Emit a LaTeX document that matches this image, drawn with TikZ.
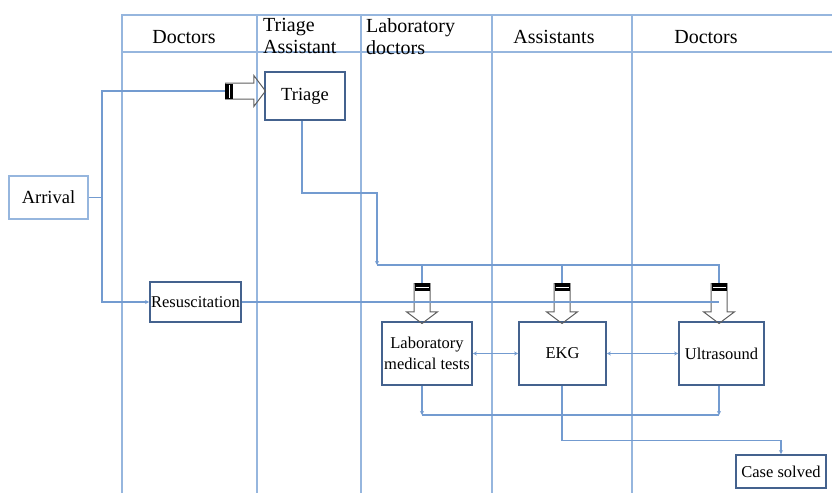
\documentclass[tikz,border=0pt]{standalone}
\usepackage{fontspec}
\setmainfont{Liberation Serif}
\usetikzlibrary{shapes.arrows, arrows.meta, positioning, calc}
\definecolor{laneblue}{RGB}{150,182,222}
\definecolor{lineblue}{RGB}{115,155,208}
\definecolor{boxblue}{RGB}{68,98,142}
\tikzstyle{lane} = [draw=laneblue, line width=1.4pt]
\tikzstyle{head} = [font=\fontsize{20}{22}\selectfont, align=left, inner sep=0pt]
\tikzstyle{std} = [rectangle, draw=boxblue, line width=1.8pt, text centered, align=center, inner sep=0pt, font=\fontsize{16.5}{21}\selectfont]
\tikzstyle{line} = [draw=lineblue, line width=1.2pt]
\tikzstyle{arrow} = [line, -{Stealth[length=4pt, width=4pt]}]
\tikzstyle{darrow} = [line, {Stealth[length=4pt, width=4pt]}-{Stealth[length=4pt, width=4pt]}]
\tikzstyle{bigarrow} = [single arrow, draw=gray!75!black, line width=1pt, minimum height=40pt, inner sep=7.5pt, single arrow head extend=7.5pt, single arrow tip angle=106]

\begin{document}
\begin{tikzpicture}[x=1pt, y=-1pt]
      \useasboundingbox (0,0) rectangle (832,493);

      % swim lanes
      \draw [lane] (122,493) |- (832,15);
      \draw [lane] (122,52) -- (832,52);
      \foreach \x in {257,361,492,632}
        \draw [lane] (\x,15) -- (\x,493);

      \node (hdoca) [head, anchor=base] at (184,43) {Doctors};
      \node (htri) [head, anchor=north west] at (263,18) {Triage\\Assistant};
      \node (hlab) [head, anchor=north west] at (366,18) {Laboratory\\doctors};
      \node (hass) [head, anchor=base] at (554,43) {Assistants};
      \node (hdocb) [head, anchor=base] at (706,43) {Doctors};

      % boxes
      \node (arrival) [std, draw=laneblue, line width=1.2pt, minimum width=79pt, minimum height=43pt, font=\fontsize{18.5}{20}\selectfont] at (48.5,197.5) {Arrival};
      \node (triage) [std, minimum width=80pt, minimum height=48pt, font=\fontsize{18.5}{20}\selectfont] at (305,96) {Triage};
      \node (resus) [std, minimum width=91pt, minimum height=40pt] at (195.5,302) {Resuscitation};
      \node (lab) [std, minimum width=90pt, minimum height=63pt] at (427,353.5) {Laboratory\\medical tests};
      \node (ekg) [std, minimum width=87pt, minimum height=63pt] at (562.5,353.5) {EKG};
      \node (ultra) [std, minimum width=85pt, minimum height=63pt] at (721.5,353.5) {Ultrasound};
      \node (solved) [std, minimum width=90pt, minimum height=33pt] at (781,471.5) {Case solved};

      % block arrows
      \node (artri) [bigarrow, anchor=tail] at (225,91) {};
      \fill (artri.tail) ++(0,-7.5) rectangle ++(8,15);
      \draw [white, line width=1pt] (artri.tail) ++(4,-6.5) -- ++(0,13);
      \foreach \n/\x in {lab/422, ekg/562, ult/719} {
        \node (ar\n) [bigarrow, rotate=-90, anchor=tail] at (\x,283) {};
        \fill (ar\n.tail) ++(-7.5,0) rectangle ++(15,8);
        \draw [white, line width=1pt] (ar\n.tail) ++(-6.5,4) -- ++(13,0);
      }

      % connectors
      \coordinate (split) at (102,197.5);
      \coordinate (bus) at (377,265);
      \coordinate (join) at (562,415);
      \draw [line] (arrival.east) -- (split);
      \draw [line] (split) |- (artri.tail);
      \draw [arrow] (split) |- (resus.west);
      \draw [line] (resus.east) -- (resus.east -| arult.tail);
      \draw [arrow] ([xshift=-3pt]triage.south) -- ++(0,72) -| (bus);
      \draw [line] (bus) -| (arult.tail);
      \draw [line] (arlab.tail |- bus) -- (arlab.tail);
      \draw [line] (arekg.tail |- bus) -- (arekg.tail);
      \draw [darrow] (lab) -- (ekg);
      \draw [darrow] (ekg) -- (ultra);
      \draw [arrow] (lab.south -| arlab.tail) -- (arlab.tail |- join);
      \draw [arrow] (ultra.south -| arult.tail) -- (arult.tail |- join);
      \draw [line] (arlab.tail |- join) -- (arult.tail |- join);
      \draw [arrow] (ekg.south -| arekg.tail) |- ([yshift=14pt]solved.north) -- (solved.north);
    \end{tikzpicture}
\end{document}
